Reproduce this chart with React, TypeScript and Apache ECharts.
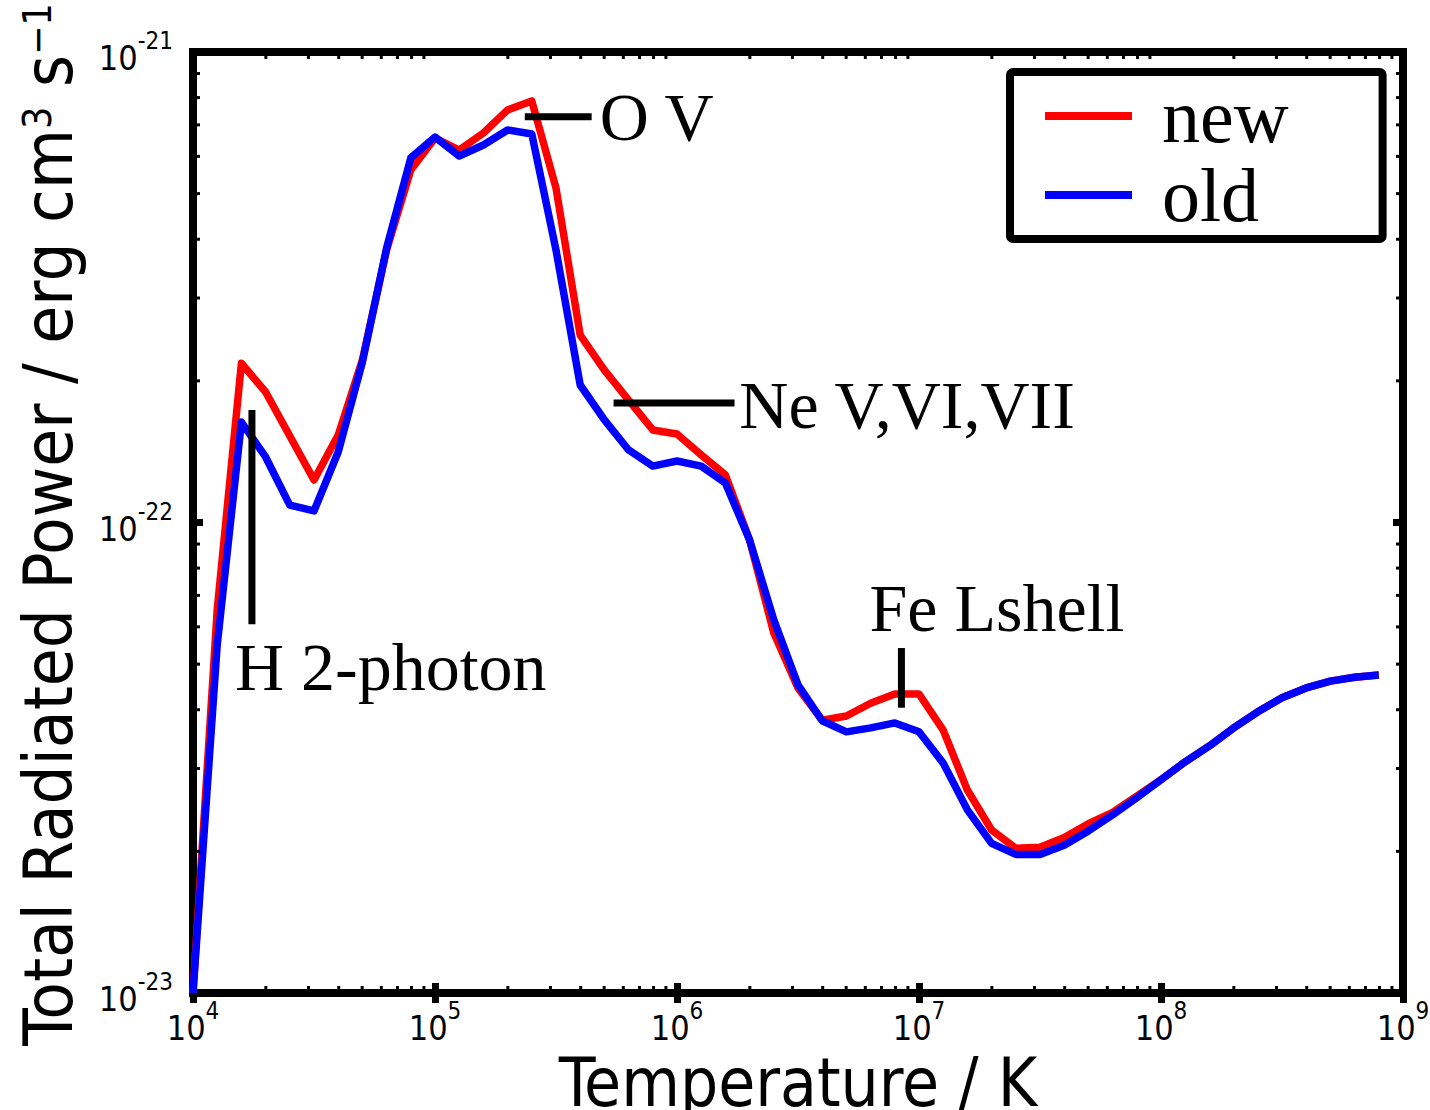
import React, { useEffect, useRef } from "react";
import * as echarts from "echarts";

// log10 of temperature (K) for each sample
const logT = [
  4.0, 4.1, 4.2, 4.3, 4.4, 4.5, 4.6, 4.7, 4.8, 4.9,
  5.0, 5.1, 5.2, 5.3, 5.4, 5.5, 5.6, 5.7, 5.8, 5.9,
  6.0, 6.1, 6.2, 6.3, 6.4, 6.5, 6.6, 6.7, 6.8, 6.9,
  7.0, 7.1, 7.2, 7.3, 7.4, 7.5, 7.6, 7.7, 7.8, 7.9,
  8.0, 8.1, 8.2, 8.3, 8.4, 8.5, 8.6, 8.7, 8.8, 8.9,
];

// radiated power in units of 1e-22 erg cm^3 s^-1
const newPower = [
  0.1, 0.652, 2.18, 1.894, 1.527, 1.231, 1.534, 2.215, 3.795, 5.613,
  6.564, 6.19, 6.726, 7.53, 7.87, 5.14, 2.503, 2.109, 1.821, 1.573,
  1.542, 1.392, 1.262, 0.918, 0.582, 0.445, 0.38, 0.388, 0.413, 0.432,
  0.432, 0.362, 0.27, 0.222, 0.203, 0.204, 0.214, 0.229, 0.242, 0.262,
  0.284, 0.31, 0.335, 0.366, 0.396, 0.424, 0.445, 0.46, 0.469, 0.474,
];

const oldPower = [
  0.1, 0.549, 1.635, 1.378, 1.089, 1.058, 1.412, 2.193, 3.832, 5.954,
  6.596, 6.012, 6.343, 6.828, 6.696, 3.795, 1.96, 1.652, 1.426, 1.318,
  1.351, 1.318, 1.213, 0.918, 0.621, 0.452, 0.379, 0.359, 0.366, 0.375,
  0.359, 0.308, 0.245, 0.208, 0.197, 0.197, 0.206, 0.221, 0.239, 0.26,
  0.284, 0.31, 0.335, 0.366, 0.396, 0.424, 0.445, 0.46, 0.469, 0.474,
];

const seriesNames = ["new", "old"];

const xTitle = "Temperature / K";
const yTitleParts = ["Total Radiated Power / erg cm", "3", " s", "\u22121"];

// annotation marks in data coordinates [T, P]
const annotationLines = [
  { from: [2.35e5, 7.28e-22], to: [4.44e5, 7.28e-22] },
  { from: [5.47e5, 1.795e-22], to: [1.729e6, 1.795e-22] },
  { from: [1.752e4, 1.734e-22], to: [1.752e4, 6.08e-23] },
  { from: [8.46e6, 5.41e-23], to: [8.46e6, 4.04e-23] },
];
const annotationTexts = [
  { text: "O V", at: [4.79e5, 7.28e-22] },
  { text: "Ne V,VI,VII", at: [1.81e6, 1.778e-22] },
  { text: "H 2-photon", at: [1.49e4, 4.93e-23] },
  { text: "Fe Lshell", at: [6.24e6, 6.58e-23] },
];

// axis range (the lower y limit is nudged below 1e-23 so the log scale keeps the 10^-23 tick)
const xMin = 1e4, xMax = 1e9, yMin = 9.9999999e-24, yMax = 1e-21;
const minorDigits = [2, 3, 4, 5, 6, 7, 8, 9];
const xDecades = [1e4, 1e5, 1e6, 1e7, 1e8];
const yDecades = [1e-23, 1e-22];

const SANS = "'DejaVu Sans Condensed', 'DejaVu Sans', sans-serif";
const SERIF = "'Liberation Serif', 'Times New Roman', serif";

export default function App() {
  const ref = useRef<HTMLDivElement>(null);

  useEffect(() => {
    document.body.style.margin = "0";
    if (!ref.current) return;
    const chart = echarts.init(ref.current, undefined, { renderer: "svg" });

    const temps = logT.map((l) => Math.pow(10, l));
    const newData = temps.map((t, i) => [t, newPower[i] * 1e-22]);
    const oldData = temps.map((t, i) => [t, oldPower[i] * 1e-22]);

    const minorX: number[][] = [];
    xDecades.forEach((d) => minorDigits.forEach((m) => minorX.push([d * m, 1e-22])));
    const minorY: number[][] = [];
    yDecades.forEach((d) => minorDigits.forEach((m) => minorY.push([1e5, d * m])));

    const expLabel = (v: number) => {
      const e = Math.round(Math.log10(v));
      return `{b|10}{s|${e}}`;
    };
    const labelRich = {
      b: { fontSize: 34, lineHeight: 46, fontFamily: SANS, color: "#000", verticalAlign: "bottom" },
      s: { fontSize: 24, lineHeight: 22, fontFamily: SANS, color: "#000", verticalAlign: "top" },
    };

    const tickStyle = { show: true, inside: true, length: 10, lineStyle: { color: "#000", width: 7 } };

    const baseX = {
      type: "log",
      logBase: 10,
      min: xMin,
      max: xMax,
      axisLine: { show: false },
      splitLine: { show: false },
      axisTick: tickStyle,
    };
    const baseY = {
      type: "log",
      logBase: 10,
      min: yMin,
      max: yMax,
      axisLine: { show: false },
      splitLine: { show: false },
      axisTick: tickStyle,
    };

    const minorStyle = { stroke: "#000", lineWidth: 3 };

    const option: any = {
      animation: false,
      backgroundColor: "#fff",
      grid: {
        left: 193,
        right: 27,
        top: 52,
        bottom: 117,
        containLabel: false,
        outerBoundsMode: "none",
        show: true,
        borderColor: "#000",
        borderWidth: 8,
      },
      legend: {
        data: seriesNames,
        orient: "vertical",
        left: 1010,
        top: 72,
        padding: [6, 94, 6, 35],
        itemGap: 3,
        itemWidth: 87,
        itemHeight: 8,
        icon: "rect",
        selectedMode: false,
        borderColor: "#000",
        borderWidth: 8,
        borderRadius: 3,
        backgroundColor: "#fff",
        textStyle: {
          fontFamily: SERIF,
          fontSize: 76,
          lineHeight: 40,
          color: "#000",
          padding: [0, 0, 30, 25],
        },
      },
      xAxis: [
        {
          ...baseX,
          gridIndex: 0,
          position: "bottom",
          name: xTitle,
          nameLocation: "middle",
          nameGap: 52,
          nameTextStyle: { fontFamily: SANS, fontSize: 67, lineHeight: 50, color: "#000" },
          axisLabel: {
            show: true,
            margin: 6,
            formatter: expLabel,
            rich: labelRich,
            showMinLabel: true,
            showMaxLabel: true,
            hideOverlap: false,
          },
        },
        {
          ...baseX,
          gridIndex: 0,
          position: "top",
          axisLabel: { show: false },
        },
      ],
      yAxis: [
        {
          ...baseY,
          gridIndex: 0,
          position: "left",
          axisLabel: {
            show: true,
            margin: 20,
            formatter: expLabel,
            rich: labelRich,
            showMinLabel: true,
            showMaxLabel: true,
            hideOverlap: false,
          },
        },
        {
          ...baseY,
          gridIndex: 0,
          position: "right",
          axisLabel: { show: false },
        },
      ],
      series: [
        {
          name: "new",
          type: "line",
          xAxisIndex: 0,
          yAxisIndex: 0,
          data: newData,
          color: "#ff0000",
          itemStyle: { color: "#ff0000" },
          lineStyle: { color: "#ff0000", width: 7.5, join: "round" },
          showSymbol: false,
          symbol: "none",
          z: 3,
        },
        {
          name: "old",
          type: "line",
          xAxisIndex: 0,
          yAxisIndex: 0,
          data: oldData,
          color: "#0000ff",
          itemStyle: { color: "#0000ff" },
          lineStyle: { color: "#0000ff", width: 7.5, join: "round" },
          showSymbol: false,
          symbol: "none",
          z: 4,
        },
        {
          name: "minorX",
          type: "custom",
          xAxisIndex: 0,
          yAxisIndex: 0,
          silent: true,
          z: 5,
          clip: false,
          data: minorX,
          renderItem: (params: any, api: any) => {
            const v = api.value(0);
            const b = api.coord([v, yMin]);
            const t = api.coord([v, yMax]);
            return {
              type: "group",
              children: [
                { type: "line", shape: { x1: b[0], y1: b[1], x2: b[0], y2: b[1] - 7 }, style: minorStyle },
                { type: "line", shape: { x1: t[0], y1: t[1], x2: t[0], y2: t[1] + 7 }, style: minorStyle },
              ],
            };
          },
        },
        {
          name: "minorY",
          type: "custom",
          xAxisIndex: 0,
          yAxisIndex: 0,
          silent: true,
          z: 5,
          clip: false,
          data: minorY,
          renderItem: (params: any, api: any) => {
            const v = api.value(1);
            const l = api.coord([xMin, v]);
            const r = api.coord([xMax, v]);
            return {
              type: "group",
              children: [
                { type: "line", shape: { x1: l[0], y1: l[1], x2: l[0] + 7, y2: l[1] }, style: minorStyle },
                { type: "line", shape: { x1: r[0], y1: r[1], x2: r[0] - 7, y2: r[1] }, style: minorStyle },
              ],
            };
          },
        },
      ],
    };

    chart.setOption(option);

    const px = (p: number[]) =>
      chart.convertToPixel({ xAxisIndex: 0, yAxisIndex: 0 } as any, p) as number[];
    const graphics: any[] = [];
    annotationLines.forEach((a) => {
      const p1 = px(a.from);
      const p2 = px(a.to);
      graphics.push({
        type: "line",
        z: 20,
        shape: { x1: p1[0], y1: p1[1], x2: p2[0], y2: p2[1] },
        style: { stroke: "#000", lineWidth: 7 },
      });
    });
    annotationTexts.forEach((a) => {
      const p = px(a.at);
      graphics.push({
        type: "text",
        z: 20,
        x: p[0],
        y: p[1],
        style: {
          text: a.text,
          fontFamily: SERIF,
          fontSize: 68,
          fill: "#000",
          align: "left",
          verticalAlign: "middle",
        },
      });
    });

    // y-axis title, rotated, with superscripts
    const mid = px([xMin, 1e-22]);
    graphics.push({
      type: "text",
      z: 20,
      x: 50,
      y: mid[1] + 2,
      rotation: Math.PI / 2,
      style: {
        text: `{m|${yTitleParts[0]}}{sup|${yTitleParts[1]}}{m|${yTitleParts[2]}}{sup|${yTitleParts[3]}}`,
        align: "center",
        verticalAlign: "middle",
        rich: {
          m: { fontFamily: SANS, fontSize: 68.5, lineHeight: 64, fill: "#000", verticalAlign: "bottom" },
          sup: { fontFamily: SANS, fontSize: 39, lineHeight: 40, fill: "#000", verticalAlign: "top" },
        },
      },
    });
    chart.setOption({ graphic: graphics });

    return () => chart.dispose();
  }, []);

  return <div ref={ref} style={{ width: 1430, height: 1110 }} />;
}
